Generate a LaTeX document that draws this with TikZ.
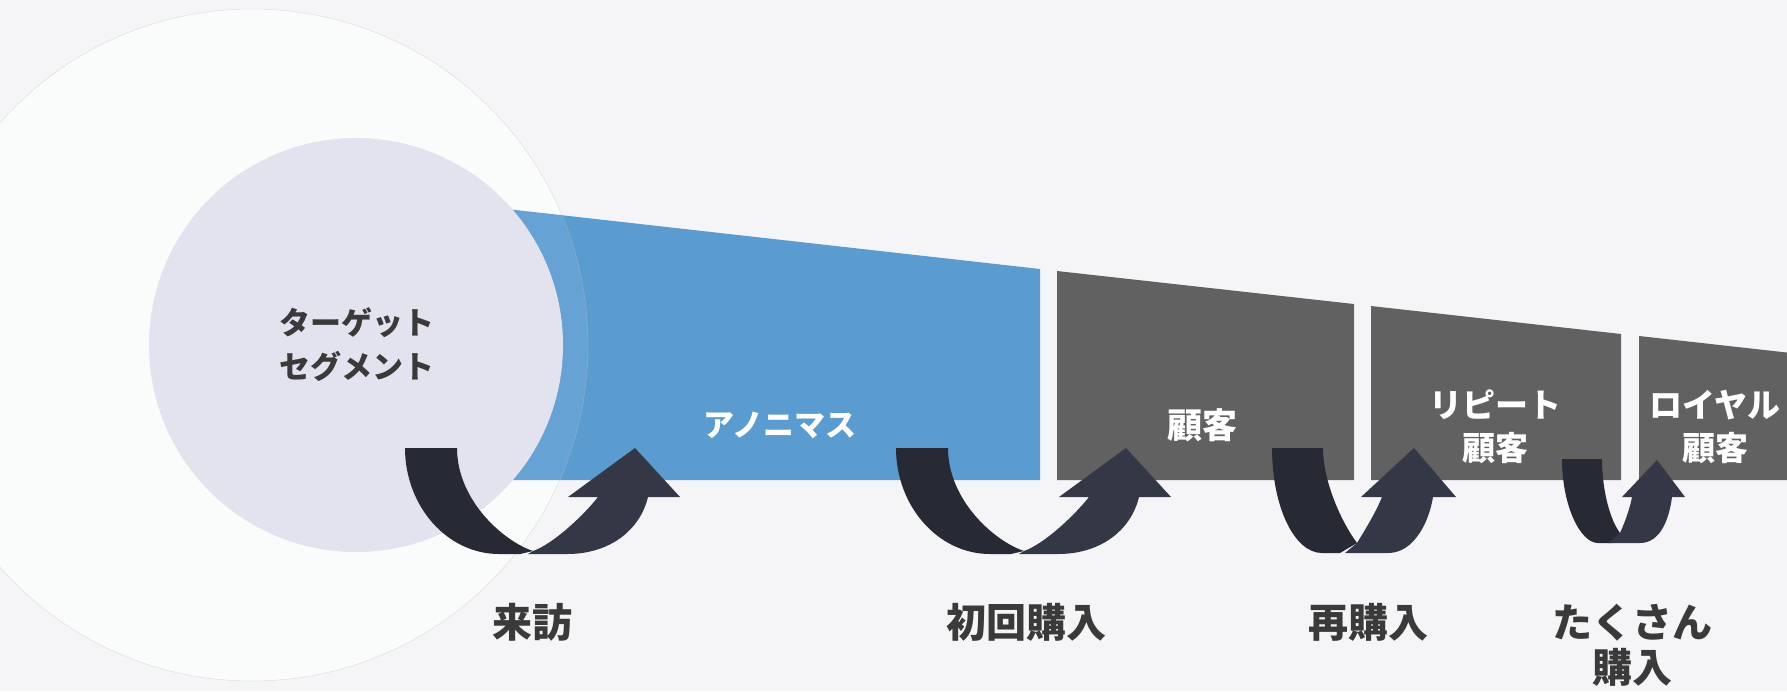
\documentclass[tikz,border=0pt]{standalone}
\usepackage{fontspec}
\newfontfamily\jp{Noto Sans CJK JP}
\definecolor{bgc}{HTML}{F5F5F8}
\definecolor{outerc}{HTML}{FAFBFB}
\definecolor{innerc}{HTML}{E3E2EF}
\definecolor{bluec}{HTML}{5A9BD0}
\definecolor{grayc}{HTML}{616161}
\definecolor{darkband}{HTML}{272A35}
\definecolor{riseband}{HTML}{343745}
\definecolor{txtc}{HTML}{3A3A3A}
\tikzset{
  lbl/.style={text=txtc, font=\jp\bfseries\fontsize{40}{45}\selectfont, inner sep=0pt, align=center},
  wlbl/.style={text=white, font=\jp\bfseries\fontsize{#1}{43}\selectfont, inner sep=0pt, align=center},
  clbl/.style={text=txtc, font=\jp\bfseries\fontsize{31}{44}\selectfont, inner sep=0pt, align=center},
  dband/.style={fill=darkband},
  rband/.style={fill=riseband},
  stage/.style={fill=grayc}
}
\begin{document}
\begin{tikzpicture}[x=1pt,y=-1pt]
\useasboundingbox (0,0) rectangle (1787,691);
\clip (0,0) rectangle (1787,691);
\fill[bgc] (0,0) rectangle (1787,691);
% outer circle
\fill[outerc] (252,345) circle[radius=336pt];
% blue funnel
\fill[bluec] (400,197) -- (1040,269) -- (1040,480) -- (400,480) -- cycle;
\begin{scope}
  \clip (252,345) circle[radius=336pt];
  \fill[white, opacity=0.08] (400,197) -- (1040,269) -- (1040,480) -- (400,480) -- cycle;
\end{scope}
\draw[gray!50, line width=0.5pt, opacity=0.45] (252,345) circle[radius=336pt];
% inner circle
\fill[innerc] (356,345) circle[radius=207pt];
% gray stages
\fill[stage] (1057,271) -- (1354,304) -- (1354,480) -- (1057,480) -- cycle;
\fill[stage] (1371,306) -- (1621,334) -- (1621,480) -- (1371,480) -- cycle;
\fill[stage] (1639,336) -- (1800,354) -- (1800,480) -- (1639,480) -- cycle;
% labels in shapes
\node[clbl] (target) at (357,345) {ターゲット\\セグメント};
\node[wlbl=31] (anon) at (780,425) {アノニマス};
\node[wlbl=35] (cust) at (1202,425) {顧客};
\node[wlbl=33] (repeat) at (1495,427) {リピート\\顧客};
\node[wlbl=33] (loyal) at (1715,427) {ロイヤル\\顧客};
% arrows 1 and 2 (same shape)
\foreach \dx in {0,491}{
\begin{scope}[shift={(\dx,0)}]
\fill[dband] (405,448) -- (457,448) .. controls (457,500) and (503,541) .. (533,551)
  -- (520,554) -- (499,554) .. controls (447,554) and (405,506) .. (405,448) -- cycle;
\fill[rband] (528,554) -- (533,551) .. controls (553,544) and (583,516) .. (598,497)
  -- (568,497) -- (635,448) -- (680,497) -- (648,497)
  .. controls (640,530) and (610,554) .. (567,554) -- cycle;
\end{scope}}
% arrow 3
\fill[dband] (1272,448) -- (1323,448) .. controls (1323,480) and (1340,520) .. (1357,543)
  -- (1340,553) -- (1322,553) .. controls (1294,553) and (1272,506) .. (1272,448) -- cycle;
\fill[rband] (1345,553) -- (1357,543) .. controls (1365,530) and (1376,512) .. (1382,497)
  -- (1361,497) -- (1414,448) -- (1456,497) -- (1433,497)
  .. controls (1429,522) and (1414,553) .. (1388,553) -- cycle;
% arrow 4
\fill[dband] (1562,459) -- (1602,459) .. controls (1602,490) and (1610,520) .. (1620,533)
  -- (1612,543) -- (1598,543) .. controls (1580,543) and (1562,505) .. (1562,459) -- cycle;
\fill[rband] (1608,543) -- (1620,533) .. controls (1625,522) and (1630,508) .. (1632,497)
  -- (1622,497) -- (1657,460) -- (1685,497) -- (1672,497)
  .. controls (1669,520) and (1660,543) .. (1640,543) -- cycle;
% bottom labels
\node[lbl] (visit) at (532,622) {来訪};
\node[lbl] (first) at (1026,622) {初回購入};
\node[lbl] (rebuy) at (1368,622) {再購入};
\node[lbl] (many) at (1632,645) {たくさん\\購入};
\end{tikzpicture}
\end{document}
